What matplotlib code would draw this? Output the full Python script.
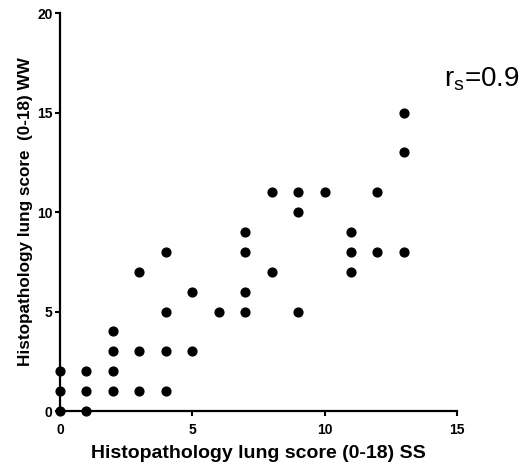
import numpy as np
import matplotlib
matplotlib.use('Agg')
import matplotlib.pyplot as plt

plt.rcParams['font.family'] = ['Liberation Sans', 'DejaVu Sans']

# Puntuaciones histopatológicas (SS vs WW)
ss = [0, 0, 0, 1, 1, 1, 2, 2, 2, 2, 3, 3, 3, 4, 4, 4, 4, 5, 5, 6,
      7, 7, 7, 7, 8, 8, 9, 9, 9, 10, 11, 11, 11, 12, 12, 13, 13, 13]
ww = [0, 1, 2, 0, 1, 2, 1, 2, 3, 4, 1, 3, 7, 1, 3, 5, 8, 3, 6, 5,
      5, 6, 8, 9, 7, 11, 5, 10, 11, 11, 7, 8, 9, 8, 11, 8, 13, 15]

x_ticks = [0, 5, 10, 15]
y_ticks = [0, 5, 10, 15, 20]
rs_text = r'r$_\mathregular{s}$=0.9'

fig = plt.figure(figsize=(5.22, 4.65), dpi=100)
ax = fig.add_axes([0.115, 0.116, 0.76, 0.856])

ax.scatter(ss, ww, s=40, color='black', zorder=3, clip_on=False)

ax.set_xlim(0, 15)
ax.set_ylim(0, 20)
ax.set_xticks(x_ticks)
ax.set_yticks(y_ticks)

for side in ['top', 'right']:
    ax.spines[side].set_visible(False)
for side in ['left', 'bottom']:
    ax.spines[side].set_linewidth(1.6)

ax.tick_params(direction='out', length=3.5, width=1.5, labelsize=10)
ax.tick_params(axis='x', pad=5)
ax.tick_params(axis='y', pad=2)
for lbl in ax.get_xticklabels() + ax.get_yticklabels():
    lbl.set_fontweight('bold')

ax.set_xlabel('Histopathology lung score (0-18) SS', fontsize=14, fontweight='bold', labelpad=6)
ax.set_ylabel('Histopathology lung score  (0-18) WW', fontsize=12.3, fontweight='bold', labelpad=3)

fig.text(0.851, 0.815, rs_text, fontsize=20, ha='left', va='baseline')

plt.savefig('out.png', dpi=100)
